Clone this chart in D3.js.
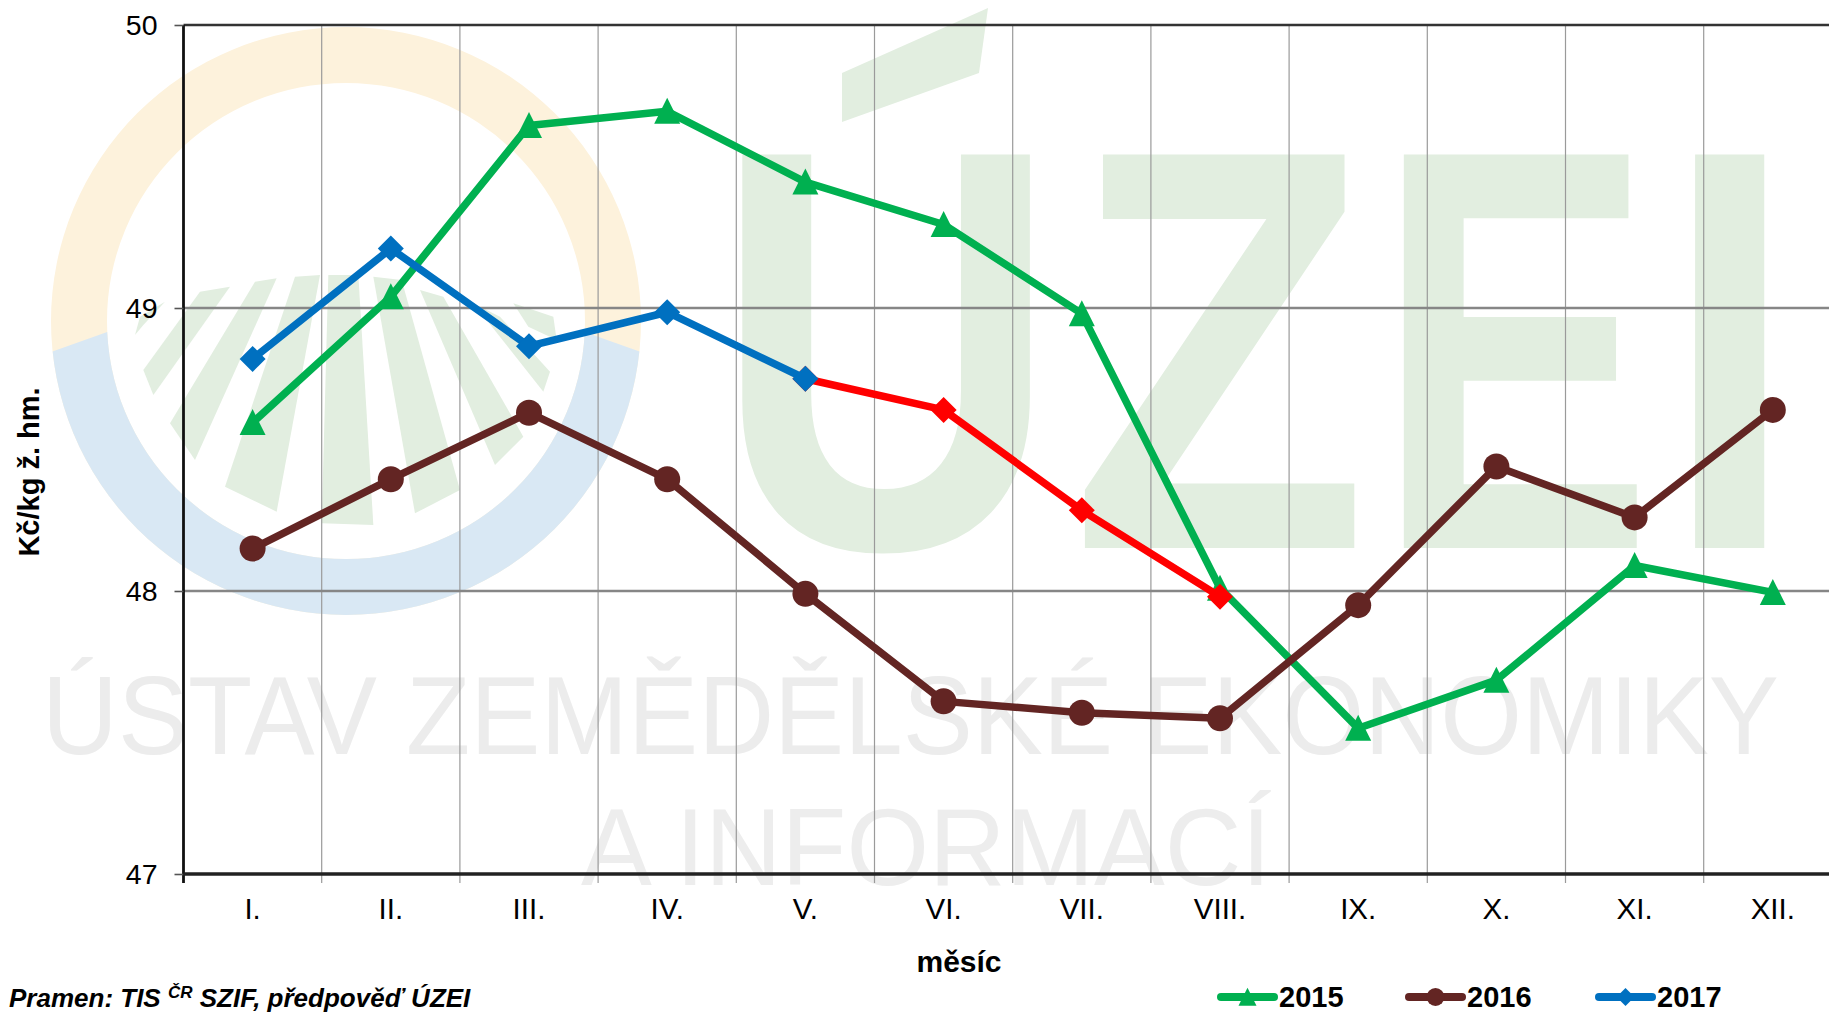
<!DOCTYPE html>
<html lang="cs">
<head>
<meta charset="utf-8">
<script src="https://cdn.jsdelivr.net/npm/d3@7"></script>
<style>
html,body{margin:0;padding:0;background:#fff;overflow:hidden}
text{font-family:"Liberation Sans",Arial,sans-serif;fill:#000}
</style>
</head>
<body>
<svg id="chart" width="1829" height="1012" viewBox="0 0 1829 1012"></svg>
<script>
const months = ["I.","II.","III.","IV.","V.","VI.","VII.","VIII.","IX.","X.","XI.","XII."];
const yTicks = [47,48,49,50];
const values2015 = [48.595,49.04,49.645,49.695,49.445,49.295,48.98,48.01,47.515,47.685,48.09,47.995];
const values2016 = [48.15,48.395,48.63,48.395,47.99,47.61,47.57,47.55,47.95,48.44,48.26,48.64];
const values2017 = [48.82,49.21,48.865,48.985,48.75];
const forecast2017 = [48.75,48.64,48.285,47.98];
const forecastStart = 4;

const colGreen="#00b050", colBrown="#632523", colBlue="#0070c0", colRed="#ff0000";

const L=183.5,T=25,B=874,STEP=138.2;
const svg=d3.select("#chart");
const x=d3.scaleBand().domain(months).range([L,L+STEP*12]);
const y=d3.scaleLinear().domain([47,50]).range([B,T]);
const cx=m=>x(m)+x.bandwidth()/2;

// ---- watermark ----
const wm=svg.append("g").attr("class","watermark");
const defs=svg.append("defs");
defs.append("clipPath").attr("id","blueClip").append("path")
  .attr("d","M30,359.5 L346,247 L662,359.5 L662,650 L30,650 Z");
const ring="M51,321 A295,294 0 1 1 641,321 A295,294 0 1 1 51,321 Z M107,321 A239,238 0 1 0 585,321 A239,238 0 1 0 107,321 Z";
wm.append("path").attr("d",ring).attr("fill","#fdf2dc").attr("fill-rule","evenodd");
wm.append("path").attr("d",ring).attr("fill","#d9e8f4").attr("fill-rule","evenodd").attr("clip-path","url(#blueClip)");
const rays=[
 [[45,225],[60,170],[135,125],[70,195]],
 [[70,330],[240,95],[330,80],[100,405]],
 [[150,490],[405,65],[470,55],[225,600]],
 [[315,680],[525,50],[600,45],[470,755]],
 [[605,790],[625,45],[715,45],[760,795]],
 [[760,50],[845,60],[1020,690],[885,760]],
 [[900,90],[970,110],[1210,530],[1125,615]],
 [[1060,130],[1140,170],[1290,335],[1270,395]],
 [[1180,130],[1300,170],[1310,240],[1225,200]]
];
wm.append("g").attr("transform","translate(120,260) scale(0.33333)")
  .selectAll("path").data(rays).join("path")
  .attr("d",d=>"M"+d.join("L")+"Z").attr("fill","#e2eee0");

const logoLetters=[
 {t:"U",x0:736,x1:1035},
 {t:"Z",x0:1078,x1:1360},
 {t:"E",x0:1402,x1:1642},
 {t:"I",x0:1693,x1:1768}
];
const logoG=wm.append("g").attr("aria-label","ÚZEI");
logoLetters.forEach(l=>{
  l.node=logoG.append("text").text(l.t)
    .attr("font-size",572).attr("font-weight","700")
    .style("fill","#e2eee0").attr("x",0).attr("y",0);
});
// Fit each glyph to its measured ink box on a canvas
const cv=document.createElement("canvas").getContext("2d");
cv.font='700 572px "Liberation Sans"';
logoLetters.forEach(l=>{
  const m=cv.measureText(l.t);
  const inkL=-m.actualBoundingBoxLeft, inkR=m.actualBoundingBoxRight;
  const sx=(l.x1-l.x0)/(inkR-inkL);
  l.node.attr("transform",`translate(${l.x0-inkL*sx},548) scale(${sx},1)`);
});
wm.append("path").attr("d","M842,73 L988,8 L979,73 L842,122 Z").attr("fill","#e2eee0");

wm.append("text").text("ÚSTAV ZEMĚDĚLSKÉ EKONOMIKY")
  .attr("transform","translate(42,754) scale(1,1.12)").attr("font-size",100)
  .attr("textLength",1737).attr("lengthAdjust","spacingAndGlyphs").style("fill","#ececec");
wm.append("text").text("A INFORMACÍ")
  .attr("x",581).attr("y",885).attr("font-size",110)
  .attr("textLength",690).attr("lengthAdjust","spacingAndGlyphs").style("fill","#ededed");

// ---- grid ----
const grid=svg.append("g").attr("class","grid");
grid.selectAll("line.v").data(months.slice(1)).join("line").attr("class","v")
  .attr("x1",d=>x(d)).attr("x2",d=>x(d)).attr("y1",T).attr("y2",B+9)
  .attr("stroke","#9a9a9a").attr("stroke-width",1.2);
grid.selectAll("line.h").data([48,49]).join("line").attr("class","h")
  .attr("x1",L).attr("x2",1829).attr("y1",d=>y(d)).attr("y2",d=>y(d))
  .attr("stroke","#868686").attr("stroke-width",2.6);
grid.append("line").attr("x1",L).attr("x2",1829).attr("y1",y(50)).attr("y2",y(50))
  .attr("stroke","#333").attr("stroke-width",2.6);

// ---- axes ----
const yAxis=svg.append("g").attr("transform",`translate(${L},0)`)
  .call(d3.axisLeft(y).tickValues(yTicks).tickFormat(d3.format("d")).tickSize(9).tickPadding(17));
yAxis.select(".domain").attr("stroke","#111").attr("stroke-width",2.8).attr("d",`M0,${T}V${B+9}`);
yAxis.selectAll(".tick line").attr("stroke","#555").attr("stroke-width",1.6);
yAxis.selectAll("text").attr("font-size",28.5).attr("font-family",null);

const xAxis=svg.append("g").attr("transform",`translate(0,${B})`)
  .call(d3.axisBottom(x).tickSize(0));
xAxis.select(".domain").remove();
xAxis.selectAll("text").attr("font-size",29.5).attr("font-family",null).attr("y",45).attr("dy",0);
svg.append("line").attr("x1",L).attr("x2",1829).attr("y1",B).attr("y2",B)
  .attr("stroke","#222").attr("stroke-width",3.6);

svg.append("text").text("Kč/kg ž. hm.")
  .attr("transform","translate(39,472) rotate(-90)")
  .attr("text-anchor","middle").attr("font-size",29).attr("font-weight","700");
svg.append("text").text("měsíc").attr("x",959).attr("y",972)
  .attr("text-anchor","middle").attr("font-size",30).attr("font-weight","700");

// ---- series ----
const triangle={draw(c,s){const w=Math.sqrt(s);c.moveTo(0,-w*0.52);c.lineTo(w/2,w*0.48);c.lineTo(-w/2,w*0.48);c.closePath();}};
const circle={draw(c,s){const r=Math.sqrt(s)/2;c.moveTo(r,0);c.arc(0,0,r,0,2*Math.PI);}};
const diamond={draw(c,s){const r=Math.sqrt(s)/2;c.moveTo(0,-r);c.lineTo(r,0);c.lineTo(0,r);c.lineTo(-r,0);c.closePath();}};
const MS=26*26;
const lineGen=d3.line().x(d=>cx(d.m)).y(d=>y(d.v));
const toPts=(vals,start=0)=>vals.map((v,i)=>({m:months[i+start],v}));
const seriesDefs=[
 {pts:toPts(values2015),color:colGreen,sym:triangle},
 {pts:toPts(values2016),color:colBrown,sym:circle},
 {pts:toPts(forecast2017,forecastStart),color:colRed,sym:diamond},
 {pts:toPts(values2017),color:colBlue,sym:diamond}
];
const plot=svg.append("g").attr("class","series");
seriesDefs.forEach(s=>{
  const g=plot.append("g");
  g.append("path").attr("d",lineGen(s.pts)).attr("fill","none")
    .attr("stroke",s.color).attr("stroke-width",7.5).attr("stroke-linejoin","round");
  g.selectAll("path.m").data(s.pts).join("path").attr("class","m")
    .attr("d",d3.symbol().type(s.sym).size(MS))
    .attr("transform",d=>`translate(${cx(d.m)},${y(d.v)})`)
    .attr("fill",s.color);
});

// ---- legend ----
const legendItems=[
 {label:"2015",color:colGreen,sym:triangle,x0:1218},
 {label:"2016",color:colBrown,sym:circle,x0:1406},
 {label:"2017",color:colBlue,sym:diamond,x0:1596}
];
const lg=svg.append("g").selectAll("g").data(legendItems).join("g")
  .attr("transform",d=>`translate(${d.x0},997)`);
lg.append("line").attr("x1",3).attr("x2",56).attr("stroke",d=>d.color)
  .attr("stroke-width",8).attr("stroke-linecap","round");
lg.append("path").attr("transform","translate(29.5,0)")
  .attr("d",d=>d3.symbol().type(d.sym).size(18*18)())
  .attr("fill",d=>d.color);
lg.append("text").text(d=>d.label).attr("x",61).attr("y",10)
  .attr("font-size",29).attr("font-weight","700");

// ---- source ----
const src=svg.append("text").attr("x",9).attr("y",1007)
  .attr("font-size",26).attr("font-weight","700").attr("font-style","italic");
src.append("tspan").text("Pramen: TIS ");
src.append("tspan").text("ČR").attr("font-size",17).attr("dy",-9);
src.append("tspan").text(" SZIF, předpověď ÚZEI").attr("dy",9);
</script>
</body>
</html>
